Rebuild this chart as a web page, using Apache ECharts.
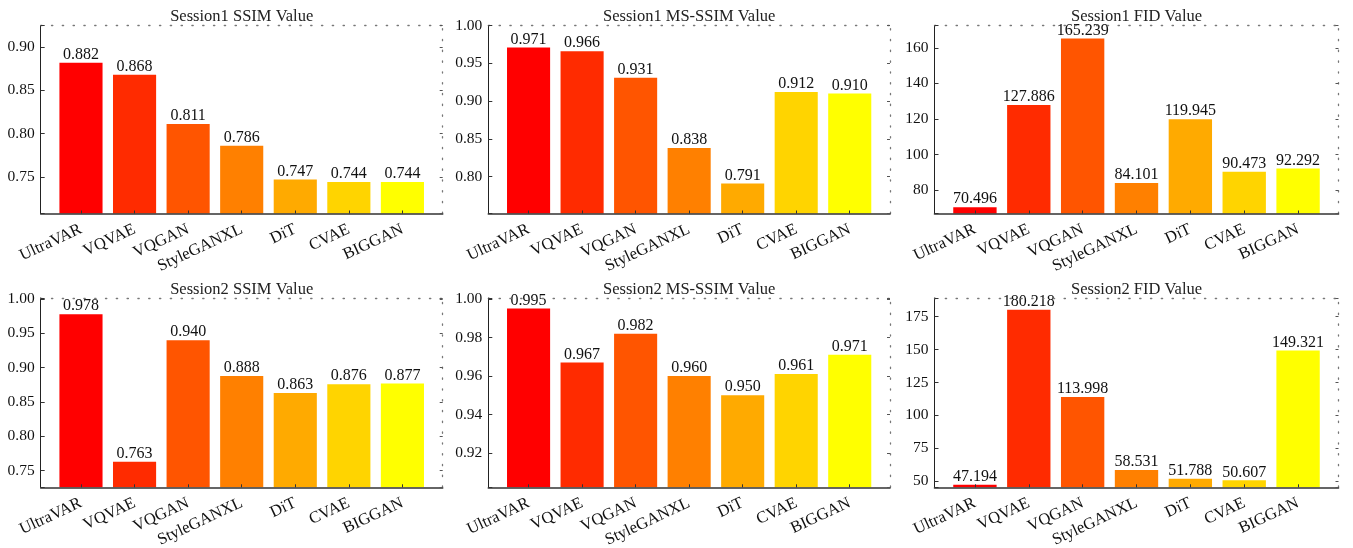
<!DOCTYPE html>
<html>
<head>
<meta charset="utf-8">
<script src="https://cdn.jsdelivr.net/npm/echarts@6/dist/echarts.min.js"></script>
<style>
  html, body { margin: 0; padding: 0; background: #fff; }
  #main { width: 1353px; height: 548px; }
</style>
</head>
<body>
<div id="main"></div>
<script>
// categories and values
const models = ["UltraVAR", "VQVAE", "VQGAN", "StyleGANXL", "DiT", "CVAE", "BIGGAN"];

const s1Ssim   = [0.882, 0.868, 0.811, 0.786, 0.747, 0.744, 0.744];
const s1MsSsim = [0.971, 0.966, 0.931, 0.838, 0.791, 0.912, 0.910];
const s1Fid    = [70.496, 127.886, 165.239, 84.101, 119.945, 90.473, 92.292];
const s2Ssim   = [0.978, 0.763, 0.940, 0.888, 0.863, 0.876, 0.877];
const s2MsSsim = [0.995, 0.967, 0.982, 0.960, 0.950, 0.961, 0.971];
const s2Fid    = [47.194, 180.218, 113.998, 58.531, 51.788, 50.607, 149.321];

const titles = [
  "Session1 SSIM Value", "Session1 MS-SSIM Value", "Session1 FID Value",
  "Session2 SSIM Value", "Session2 MS-SSIM Value", "Session2 FID Value"
];
const seriesData = [s1Ssim, s1MsSsim, s1Fid, s2Ssim, s2MsSsim, s2Fid];

// y axis ranges and tick steps (tick labels: 0.75 ... / 80 ... / 50, 75 ...)
const yMin  = [0.7076, 0.7512, 67.0, 0.7258, 0.9022, 45.3];
const yMax  = [0.925, 1.0, 172.5, 1.0015, 1.0005, 189.2];
const yStep = [0.05, 0.05, 20, 0.05, 0.02, 25];
const yDec  = [2, 2, 0, 2, 2, 0];

// one colour per model, red -> yellow
const barColors = ["#ff0000", "#ff2b00", "#ff5500", "#ff8000", "#ffaa00", "#ffd400", "#ffff00"];

// panel frames in pixels
const colBox = [{ left: 40.7, width: 402 }, { left: 488.3, width: 401.7 }, { left: 934.5, width: 404 }];
const rowBox = [{ top: 25.5, height: 188 }, { top: 298, height: 189.3 }];
const pad = 13.5;

const FONT = '"Liberation Serif", "DejaVu Serif", serif';
const INK = "#111";

const option = {
  animation: false,
  backgroundColor: "#fff",
  textStyle: { fontFamily: FONT, color: INK },
  title: [], grid: [], xAxis: [], yAxis: [], series: []
};

titles.forEach(function (t, i) {
  const c = colBox[i % 3], r = rowBox[Math.floor(i / 3)];
  const step = yStep[i], dec = yDec[i];

  option.title.push({
    text: t,
    left: c.left + c.width / 2,
    top: r.top - 17,
    padding: 0,
    textAlign: "center",
    textStyle: { fontFamily: FONT, fontSize: 16.5, fontWeight: "normal", color: "#222" }
  });

  // frame grid + bar grid (bars sit inside a padded band)
  const g = option.grid.length;
  option.grid.push({ left: c.left, top: r.top, width: c.width, height: r.height, outerBoundsMode: "none" });
  option.grid.push({ left: c.left + pad, top: r.top, width: c.width - 2 * pad, height: r.height, outerBoundsMode: "none" });

  const xi = option.xAxis.length;
  option.xAxis.push({
    gridIndex: g, type: "value", min: 0, max: 1, position: "bottom", z: 4,
    axisLine: { show: true, onZero: false, lineStyle: { color: "#333", width: 1.6 } },
    axisTick: { show: false }, axisLabel: { show: false }, splitLine: { show: false }
  });
  option.xAxis.push({
    gridIndex: g, type: "value", min: 0, max: 1, position: "top", z: 4,
    axisLine: { show: true, onZero: false, lineStyle: { color: "#777", width: 1.3, type: [1.3, 9.5] } },
    axisTick: { show: false }, axisLabel: { show: false }, splitLine: { show: false }
  });
  option.xAxis.push({
    gridIndex: g + 1, type: "category", data: models, boundaryGap: true, z: 5,
    axisLine: { show: false, onZero: false },
    axisTick: { show: true, inside: true, alignWithLabel: true, length: 3, lineStyle: { color: "#333" } },
    axisLabel: { rotate: 25, margin: 15, interval: 0, fontFamily: FONT, fontSize: 16.5, color: INK },
    splitLine: { show: false }
  });

  const yi = option.yAxis.length;
  option.yAxis.push({
    gridIndex: g, type: "value", position: "left", z: 4,
    min: yMin[i], max: yMax[i], minInterval: step, maxInterval: step,
    axisLine: { show: true, onZero: false, lineStyle: { color: "#222", width: 1 } },
    axisTick: { show: true, inside: true, length: 4, lineStyle: { color: "#333" } },
    axisLabel: {
      fontFamily: FONT, fontSize: 15.5, color: INK, margin: 6,
      formatter: function (v) {
        const k = v / step;
        return Math.abs(k - Math.round(k)) < 1e-6 ? v.toFixed(dec) : "";
      }
    },
    splitLine: { show: false }
  });
  option.yAxis.push({
    gridIndex: g, type: "value", position: "right", z: 4,
    min: yMin[i], max: yMax[i], minInterval: step, maxInterval: step,
    axisLine: { show: true, onZero: false, lineStyle: { color: "#777", width: 1.3, type: [1.3, 9.5] } },
    axisTick: { show: true, inside: true, length: 3, lineStyle: { color: "#555" } },
    axisLabel: { show: false }, splitLine: { show: false }
  });
  option.yAxis.push({
    gridIndex: g + 1, type: "value", min: yMin[i], max: yMax[i], startValue: yMin[i], show: false
  });

  option.series.push({
    type: "bar",
    xAxisIndex: xi + 2,
    yAxisIndex: yi + 2,
    barCategoryGap: "19.5%",
    clip: true,
    data: seriesData[i].map(function (v, k) {
      return { value: v, itemStyle: { color: barColors[k] } };
    }),
    label: {
      show: true, position: "top", distance: 0,
      fontFamily: FONT, fontSize: 16, color: INK,
      formatter: function (p) { return p.value.toFixed(3); }
    }
  });
});

const chart = echarts.init(document.getElementById("main"), null, { renderer: "canvas" });
chart.setOption(option);
</script>
</body>
</html>
